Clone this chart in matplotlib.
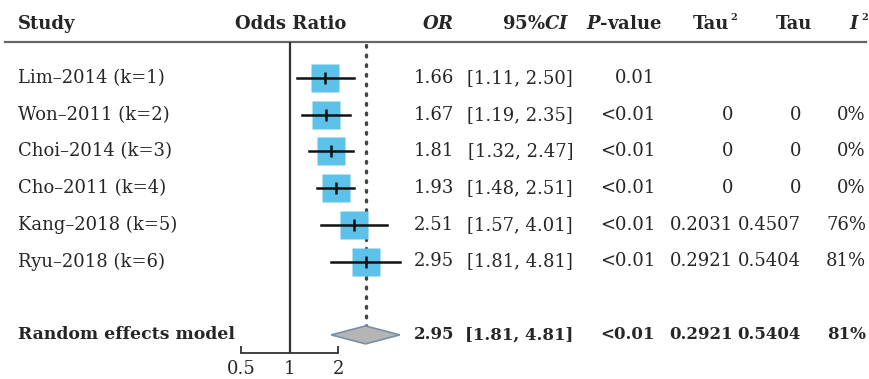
import numpy as np
import matplotlib
matplotlib.use("Agg")
import matplotlib.pyplot as plt
from matplotlib.patches import Polygon

plt.rcParams['font.family'] = ['DejaVu Serif']
plt.rcParams['mathtext.fontset'] = 'dejavuserif'

# data
studies = ['Lim\u20132014 (k=1)', 'Won\u20132011 (k=2)', 'Choi\u20132014 (k=3)',
           'Cho\u20132011 (k=4)', 'Kang\u20132018 (k=5)', 'Ryu\u20132018 (k=6)']
odds = [1.66, 1.67, 1.81, 1.93, 2.51, 2.95]
ci_low = [1.11, 1.19, 1.32, 1.48, 1.57, 1.81]
ci_high = [2.50, 2.35, 2.47, 2.51, 4.01, 4.81]
p_text = ['0.01', '<0.01', '<0.01', '<0.01', '<0.01', '<0.01']
tau2_text = ['', '0', '0', '0', '0.2031', '0.2921']
tau_text = ['', '0', '0', '0', '0.4507', '0.5404']
i2_text = ['', '0%', '0%', '0%', '76%', '81%']

summary_label = 'Random effects model'
summary_or = 2.95
summary_low = 1.81
summary_high = 4.81
summary_p = '<0.01'
summary_tau2 = '0.2921'
summary_tau = '0.5404'
summary_i2 = '81%'

ticks = [0.5, 1, 2]

# layout (pixels)
W, H = 869, 379
row0, dy = 78, 36.7
x_one, px_per_doubling = 289.5, 48.7
ax_left, ax_right = 225, 415
ax_top, ax_bot = 42, 353
txt = '#262626'
fs = 13

fig = plt.figure(figsize=(W / 100, H / 100), dpi=100)

# background axes in pixel units for the table text
bg = fig.add_axes([0, 0, 1, 1])
bg.set_xlim(0, W)
bg.set_ylim(H, 0)
bg.axis('off')

def rowy(i):
    return row0 + dy * i

# forest axes (log scale)
ax = fig.add_axes([ax_left / W, (H - ax_bot) / H, (ax_right - ax_left) / W, (ax_bot - ax_top) / H])
ax.patch.set_alpha(0)
ax.set_xscale('log', base=2)
ax.set_xlim(2 ** ((ax_left - x_one) / px_per_doubling), 2 ** ((ax_right - x_one) / px_per_doubling))
ax.set_ylim((ax_bot - row0) / dy, (ax_top - row0) / dy)
for s in ['top', 'right', 'left']:
    ax.spines[s].set_visible(False)
ax.spines['bottom'].set_bounds(0.5, 2)
ax.spines['bottom'].set_linewidth(1.3)
ax.spines['bottom'].set_color('#333333')
ax.set_yticks([])
ax.set_xticks(ticks)
ax.set_xticklabels(['0.5', '1', '2'])
ax.minorticks_off()
ax.tick_params(axis='x', direction='in', length=5, width=1.3, color='#333333',
               labelsize=13, labelcolor=txt, pad=5)

ax.axvline(1, color='#333333', lw=1.6, zorder=1)
n = len(studies)
sum_pos = n + 1
ax.plot([summary_or, summary_or], [(ax_top + 3 - row0) / dy, sum_pos - 0.25],
        color='#444444', lw=2.4, linestyle=(0, (0.5, 2.4)), dash_capstyle='round', zorder=1)

for i in range(n):
    ax.plot(odds[i], i, marker='s', markersize=20.5, color='#5DC2E9', mec='none', zorder=2)
    ax.plot([ci_low[i], ci_high[i]], [i, i], color='#111111', lw=1.8, zorder=3)
    ax.plot(odds[i], i, marker='|', markersize=8, mew=1.8, color='#111111', zorder=4)

hd = 9 / dy
diamond = Polygon([[summary_low, sum_pos], [summary_or, sum_pos - hd],
                   [summary_high, sum_pos], [summary_or, sum_pos + hd]],
                  closed=True, facecolor='#B5B5B5', edgecolor='#7890A8', lw=1.2, zorder=2)
ax.add_patch(diamond)

# header
hy = 24
hb = dict(va='center', fontsize=fs, fontweight='bold', color=txt)
bg.plot([5, 866], [42, 42], color='#666666', lw=1.6)
bg.text(18, hy, 'Study', ha='left', **hb)
bg.text(291, hy, 'Odds Ratio', ha='center', **hb)
bg.text(454, hy, r'$\mathbfit{OR}$', ha='right', **hb)
bg.text(569, hy, r'$\mathbf{95\%}\mathbfit{CI}$', ha='right', **hb)
bg.text(662, hy, r'$\mathbfit{P}$-value', ha='right', **hb)
bg.text(729, hy, 'Tau', ha='right', **hb)
bg.text(730, hy - 7, '2', ha='left', va='center', fontsize=7, fontweight='bold', color=txt)
bg.text(812, hy, 'Tau', ha='right', **hb)
bg.text(860, hy, r'$\mathbfit{I}$', ha='right', **hb)
bg.text(861, hy - 7, '2', ha='left', va='center', fontsize=7, fontweight='bold', color=txt)

# rows
for i in range(n):
    y = rowy(i)
    bg.text(18, y, studies[i], ha='left', va='center', fontsize=fs, color=txt)
    bg.text(454, y, '%.2f' % odds[i], ha='right', va='center', fontsize=fs, color=txt)
    bg.text(573, y, '[%.2f, %.2f]' % (ci_low[i], ci_high[i]), ha='right', va='center', fontsize=fs, color=txt)
    bg.text(655, y, p_text[i], ha='right', va='center', fontsize=fs, color=txt)
    bg.text(733, y, tau2_text[i], ha='right', va='center', fontsize=fs, color=txt)
    bg.text(801, y, tau_text[i], ha='right', va='center', fontsize=fs, color=txt)
    bg.text(866, y, i2_text[i], ha='right', va='center', fontsize=fs, color=txt)

y = rowy(sum_pos)
bold = dict(va='center', fontsize=12, fontweight='bold', color=txt)
bg.text(18, y, summary_label, ha='left', va='center', fontsize=12.4, fontweight='bold', color=txt)
bg.text(454, y, '%.2f' % summary_or, ha='right', **bold)
bg.text(573, y, '[%.2f, %.2f]' % (summary_low, summary_high), ha='right', **bold)
bg.text(655, y, summary_p, ha='right', **bold)
bg.text(733, y, summary_tau2, ha='right', **bold)
bg.text(801, y, summary_tau, ha='right', **bold)
bg.text(866, y, summary_i2, ha='right', **bold)

fig.savefig('out.png', dpi=100)
